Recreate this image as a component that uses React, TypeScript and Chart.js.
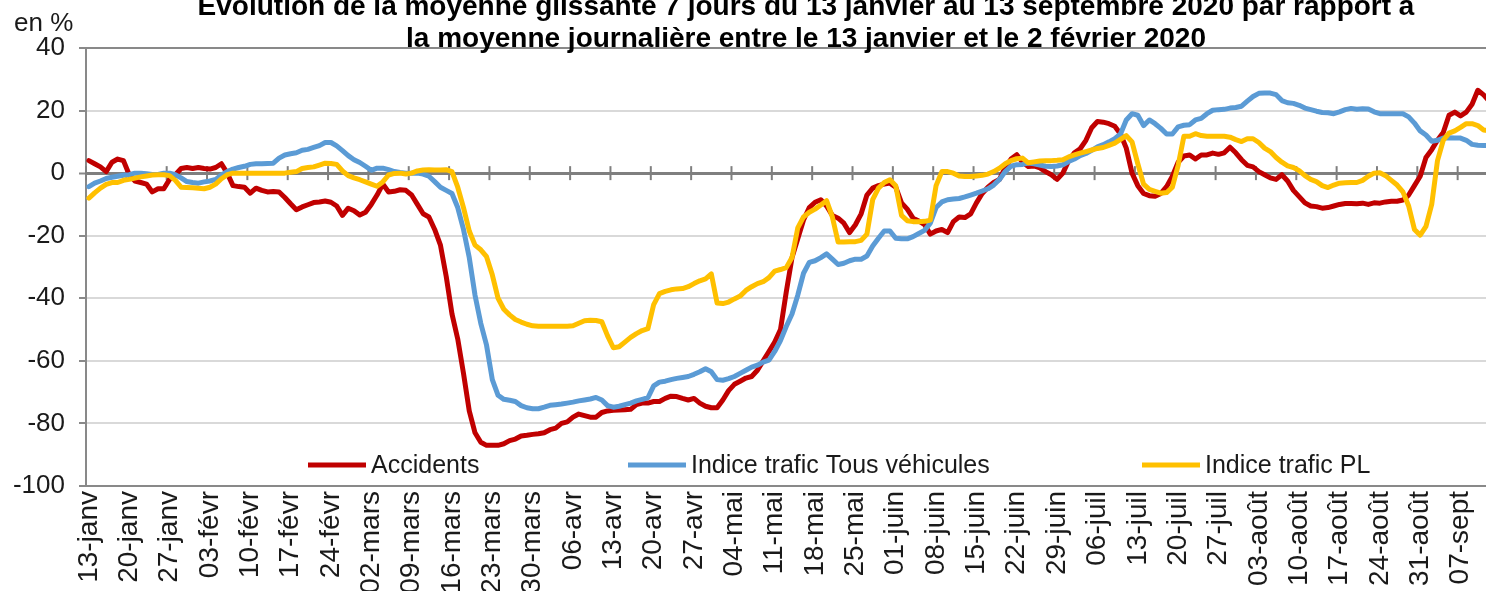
import React, { useEffect, useRef } from 'react';
import { Chart, registerables } from 'chart.js';

Chart.register(...registerables);

const titleLines = [
  'Évolution de la moyenne glissante 7 jours du 13 janvier au 13 septembre 2020 par rapport à',
  'la moyenne journalière entre le 13 janvier et le 2 février 2020',
];
const yUnit = 'en %';

const tickLabels = [
  '13-janv', '20-janv', '27-janv', '03-févr', '10-févr', '17-févr', '24-févr',
  '02-mars', '09-mars', '16-mars', '23-mars', '30-mars', '06-avr', '13-avr',
  '20-avr', '27-avr', '04-mai', '11-mai', '18-mai', '25-mai', '01-juin',
  '08-juin', '15-juin', '22-juin', '29-juin', '06-juil', '13-juil', '20-juil',
  '27-juil', '03-août', '10-août', '17-août', '24-août', '31-août', '07-sept',
];

const seriesNames = ['Accidents', 'Indice trafic Tous véhicules', 'Indice trafic PL'];
const seriesColors = ['#C00000', '#5B9BD5', '#FFC000'];

// daily values, 13 janv -> 13 sept 2020
const accidents = [
  4, 3, 2, 0.5, 3.5, 4.5, 4, -0.5, -2.5, -3,
  -3.5, -6, -5, -5, -2, -0.5, 1.5, 1.8, 1.5, 1.8,
  1.5, 1.3, 1.8, 3, 0, -4, -4.3, -4.5, -6.4, -4.8,
  -5.5, -6, -5.9, -6, -7.8, -9.8, -11.7, -10.8, -10.1, -9.4,
  -9.2, -8.9, -9.3, -10.5, -13.5, -11.2, -12, -13.4, -12.5, -10,
  -7, -3.5, -6, -5.8, -5.3, -5.5, -7, -10, -13, -14,
  -18, -23, -33, -45, -53, -64, -76, -83, -86, -87,
  -87, -87, -86.5, -85.5, -85, -84, -83.8, -83.5, -83.3, -83,
  -82, -81.5, -80, -79.5, -78, -77, -77.5, -78, -78, -76.5,
  -76, -75.8, -75.7, -75.6, -75.5, -74, -73.5, -73.5, -73, -73,
  -72, -71.3, -71.4, -72, -72.5, -72, -73.5, -74.5, -75, -75,
  -72.5, -69.5, -67.5, -66.5, -65.5, -65, -63, -60, -57, -54,
  -50, -38, -27, -21, -15, -11, -9.3, -8.5, -10.5, -13.5,
  -14.4, -16, -19, -16.5, -13, -7, -4.8, -4, -3.5, -3.2,
  -4.5, -9.5, -11.5, -14.4, -15.3, -16.5, -19.5, -18.5, -18, -19,
  -15.5, -14, -14.2, -13, -9.5, -6.5, -4.5, -3, -2, 1.8,
  4.5, 5.9, 3.5, 2.1, 2.3, 1.7, 0.5, -0.5, -2, 0,
  4, 6.5, 7.8, 10.5, 14.5, 16.5, 16.3, 15.8, 15, 12.5,
  8, 0, -4, -6.5, -7.2, -7.4, -6.5, -4.3, -1, 3.5,
  5.5, 5.8, 4.5, 5.8, 5.8, 6.4, 6, 6.5, 8.3, 6.5,
  4.3, 2.5, 2, 0.5, -0.5, -1.5, -2, -0.5, -2.5, -5.5,
  -7.5, -9.5, -10.5, -10.7, -11.2, -11, -10.5, -10, -9.7, -9.7,
  -9.8, -9.6, -10, -9.5, -9.6, -9.2, -9, -9, -8.6, -7,
  -4, -1, 5, 7.5, 10.5, 13, 18.5, 19.5, 18.3, 19.5,
  22, 26.5, 25, 23, 22,
];

const traficTous = [
  -4.3, -3.2, -2.5, -1.7, -1.3, -1, -0.7, -0.5, 0, 0,
  -0.2, -0.4, -0.4, 0, 0, -0.5, -1.5, -2.7, -3, -3.2,
  -2.8, -2.5, -2, -0.6, 0.5, 1.3, 1.8, 2.2, 2.8, 3,
  3, 3.1, 3.2, 4.8, 5.8, 6.2, 6.5, 7.3, 7.6, 8.2,
  8.8, 9.8, 9.8, 8.7, 7.2, 5.6, 4.3, 3.4, 2.2, 0.9,
  1.6, 1.6, 1.1, 0.5, 0.2, 0, 0, 0, -0.3, -1,
  -2.7, -4.5, -5.5, -6.5, -11, -18, -27, -39, -48, -55,
  -66, -71, -72.3, -72.6, -73, -74.3, -75, -75.3, -75.3, -74.8,
  -74.2, -74, -73.8, -73.5, -73.2, -72.8, -72.5, -72.2, -71.7, -72.5,
  -74.3, -74.8, -74.5, -74, -73.5, -72.8, -72.3, -71.8, -68, -66.8,
  -66.5, -66, -65.6, -65.3, -65, -64.3, -63.5, -62.5, -63.5, -66,
  -66.2, -65.7, -65, -64, -63, -62, -61.4, -60.4, -59.8, -57,
  -53.5, -49, -45, -39, -32, -28.5, -28, -27, -25.8, -27.5,
  -29.2, -28.8, -28, -27.5, -27.5, -26.5, -23.3, -20.8, -18.5, -18.5,
  -20.8, -21, -21, -20.3, -19.3, -18.3, -16, -11, -9.2, -8.5,
  -8.3, -8.1, -7.6, -7, -6.4, -5.7, -5, -3.8, -2, 0.5,
  2.2, 2.7, 2.8, 3.2, 3, 2.6, 2.2, 2.1, 2.3, 2.7,
  3.7, 4.5, 5.6, 6.3, 7.3, 8.4, 9.1, 10, 11, 12.5,
  17, 19, 18.5, 15.2, 17, 15.8, 14.3, 12.5, 12.5, 14.8,
  15.3, 15.5, 17, 17.5, 19, 20.1, 20.3, 20.4, 20.8, 21,
  21.4, 23, 24.5, 25.5, 25.6, 25.6, 25.1, 23.2, 22.5, 22.3,
  21.7, 20.8, 20.3, 19.8, 19.4, 19.3, 19, 19.6, 20.3, 20.7,
  20.4, 20.6, 20.5, 19.6, 19, 19, 19, 19, 19, 18,
  16, 13.5, 12.2, 10.2, 10.5, 11.2, 11.3, 11.2, 11.2, 10.5,
  9.2, 8.9, 8.8, 8.8, 8.8,
];

const traficPL = [
  -8, -6.3, -4.8, -3.6, -3, -3, -2.3, -2, -1.6, -1.2,
  -0.9, -0.6, -0.5, -0.5, -0.8, -2.3, -4.5, -4.6, -4.7, -4.8,
  -5, -4.5, -3.5, -1.8, -0.5, 0, 0, 0, 0, 0,
  0, 0, 0, 0, 0, 0.3, 0.5, 1.5, 1.8, 2,
  2.6, 3.2, 3.1, 2.8, 0.7, -0.8, -1.5, -2.1, -2.8, -3.5,
  -4.2, -2.8, -0.6, -0.1, 0, -0.3, 0, 0.7, 1, 1.1,
  1, 1, 1.1, 0.5, -4.5, -11, -18.5, -23, -24.5, -26.7,
  -32.5, -40, -43.5, -45.3, -46.8, -47.6, -48.3, -48.8, -48.9, -48.9,
  -48.9, -48.9, -48.9, -48.9, -48.8, -48, -47.2, -47, -47.1, -47.5,
  -52, -55.8, -55.5, -54, -52.5, -51.3, -50.3, -49.7, -42, -38.5,
  -37.8, -37.3, -37, -36.9, -36.3, -35.3, -34.4, -33.8, -32.2, -41.5,
  -41.7, -41.2, -40.2, -39.3, -37.5, -36.3, -35.3, -34.7, -33.4, -31.3,
  -30.8, -30.2, -27, -17.5, -14, -12.5, -11.5, -10.2, -8.8, -14,
  -22, -22, -21.9, -21.9, -21.5, -19.5, -8.5, -4.8, -3, -2.1,
  -4, -13.5, -15.2, -15.5, -15.5, -15.4, -15, -4, 0.5, 0.5,
  0, -0.9, -1.1, -1.1, -0.9, -0.7, -0.3, 0.5, 1.6, 3,
  4, 4.6, 4.8, 3.3, 3.6, 3.9, 4, 4, 4.1, 4.3,
  5.2, 5.8, 6.4, 6.9, 7.4, 7.9, 8.2, 8.9, 9.6, 10.8,
  12, 10, 3, -3.5, -5.2, -5.8, -6.4, -6.2, -4.5, 2.5,
  11.8, 11.8, 12.6, 12, 11.8, 11.8, 11.8, 11.8, 11.5, 10.7,
  10.1, 11, 11, 9.8, 8, 6.9, 5, 3.5, 2.3, 1.8,
  0.8, -0.8, -2, -2.7, -4, -4.6, -3.8, -3.2, -3.1, -3,
  -3, -2.3, -1, 0, 0.1, -0.8, -2.3, -3.8, -6, -10.5,
  -18, -19.8, -17, -10, 4, 10.5, 12.8, 13.5, 14.6, 15.8,
  15.8, 15.2, 13.8, 13.5, 13,
];

const FONT = '"Liberation Sans", Arial, Helvetica, sans-serif';
const TEXT = '#1a1a1a';
const AXIS = '#898989';

const decorPlugin = {
  id: 'decor',
  beforeDatasetsDraw(chart: any) {
    const { ctx, scales } = chart;
    const x = scales.x;
    const y = scales.y;
    const y0 = y.getPixelForValue(0);
    ctx.save();
    ctx.strokeStyle = '#7f7f7f';
    ctx.lineWidth = 2;
    for (let k = 0; k <= tickLabels.length; k++) {
      const px = x.getPixelForValue(k * 7 - 0.5);
      ctx.beginPath();
      ctx.moveTo(px, y0 - 7);
      ctx.lineTo(px, y0 + 7);
      ctx.stroke();
    }
    ctx.restore();
  },
  afterDraw(chart: any) {
    const { ctx, chartArea } = chart;
    ctx.save();
    ctx.fillStyle = '#000';
    ctx.textAlign = 'center';
    ctx.textBaseline = 'alphabetic';
    ctx.font = `bold 28px ${FONT}`;
    ctx.fillText(titleLines[0], 806, 15);
    ctx.fillText(titleLines[1], 806, 47);

    ctx.fillStyle = TEXT;
    ctx.textAlign = 'left';
    ctx.font = `26px ${FONT}`;
    ctx.fillText(yUnit, 14, 31);

    // legend inside the plot area
    const offsets = [222, 542, 1056];
    const ly = chartArea.bottom - 21;
    ctx.font = `25px ${FONT}`;
    ctx.textBaseline = 'middle';
    offsets.forEach((off, i) => {
      const lx = chartArea.left + off;
      ctx.strokeStyle = seriesColors[i];
      ctx.lineWidth = 5;
      ctx.beginPath();
      ctx.moveTo(lx, ly);
      ctx.lineTo(lx + 58, ly);
      ctx.stroke();
      ctx.fillStyle = TEXT;
      ctx.fillText(seriesNames[i], lx + 63, ly + 1);
    });
    ctx.restore();
  },
};

export default function App() {
  const canvasRef = useRef<HTMLCanvasElement | null>(null);

  useEffect(() => {
    const canvas = canvasRef.current;
    if (!canvas) return;
    const labels = accidents.map((_, i) => i);
    const series = [accidents, traficTous, traficPL];
    const chart = new Chart(canvas, {
      type: 'line',
      data: {
        labels,
        datasets: series.map((d, i) => ({
          label: seriesNames[i],
          data: d,
          borderColor: seriesColors[i],
          backgroundColor: seriesColors[i],
          borderWidth: 5,
          pointRadius: 0,
          tension: 0,
          borderJoinStyle: 'round' as const,
          borderCapStyle: 'round' as const,
          order: 2 - i,
        })),
      },
      options: {
        animation: false,
        responsive: false,
        devicePixelRatio: 1,
        layout: { padding: { top: 48, right: 22, left: 0, bottom: 0 } },
        plugins: {
          legend: { display: false },
          title: { display: false },
          tooltip: { enabled: false },
        },
        scales: {
          x: {
            type: 'linear',
            min: -0.5,
            max: accidents.length - 0.5,
            afterBuildTicks: (axis: any) => {
              axis.ticks = tickLabels.map((_, k) => ({ value: k * 7 }));
            },
            afterFit: (axis: any) => {
              axis.height = 114;
            },
            grid: { display: false, drawTicks: false },
            border: { display: true, color: AXIS, width: 2 },
            ticks: {
              autoSkip: false,
              minRotation: 90,
              maxRotation: 90,
              padding: 5,
              color: TEXT,
              font: { family: FONT, size: 28 },
              callback: (value: any) => tickLabels[Math.round(Number(value) / 7)] ?? '',
            },
          },
          y: {
            min: -100,
            max: 40,
            afterFit: (axis: any) => {
              axis.width = 86;
            },
            grid: {
              color: (c: any) => {
                const v = c.tick && c.tick.value;
                if (v === 0) return '#7f7f7f';
                if (v === 40 || v === -100) return AXIS;
                return '#d9d9d9';
              },
              lineWidth: (c: any) => (c.tick && c.tick.value === 0 ? 3 : 2),
              tickColor: AXIS,
              tickLength: 7,
              tickWidth: 2,
              drawTicks: true,
            },
            border: { display: true, color: AXIS, width: 2 },
            ticks: {
              stepSize: 20,
              padding: 14,
              color: TEXT,
              font: { family: FONT, size: 26 },
            },
          },
        },
      },
      plugins: [decorPlugin],
    });
    return () => chart.destroy();
  }, []);

  return (
    <div
      style={{
        position: 'fixed',
        left: 0,
        top: 0,
        width: 1486,
        height: 591,
        overflow: 'hidden',
        background: '#fff',
      }}
    >
      <canvas
        ref={canvasRef}
        width={1520}
        height={600}
        style={{ position: 'absolute', left: 0, top: 0, width: 1520, height: 600 }}
      />
    </div>
  );
}
